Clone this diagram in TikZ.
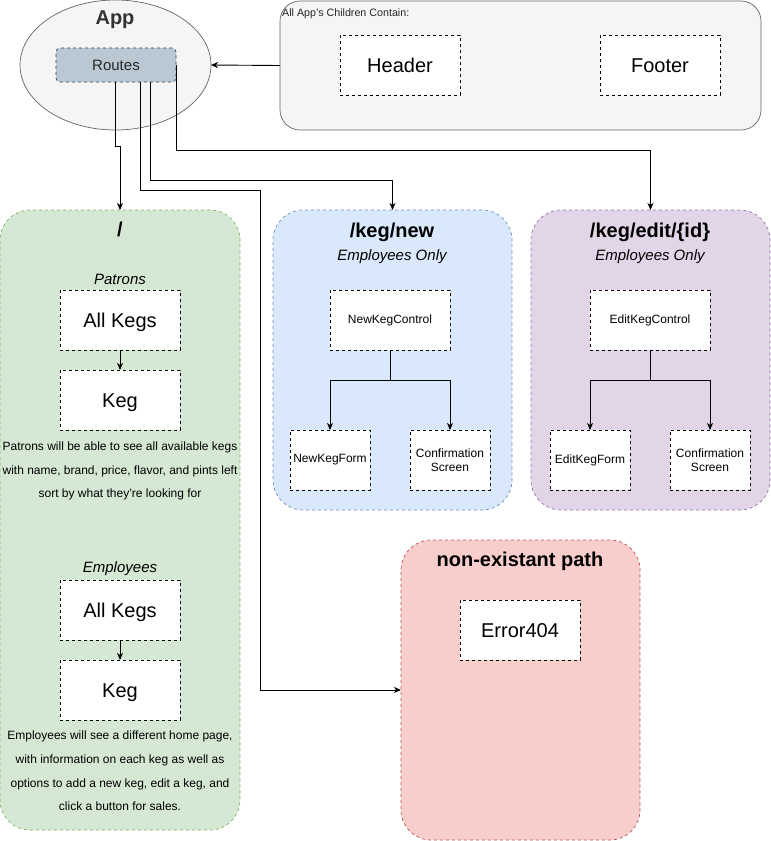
\documentclass[tikz,border=0pt]{standalone}
\usepackage{fontspec}
\setmainfont{Liberation Sans}
\usetikzlibrary{arrows.meta,shapes.geometric,calc}
\definecolor{gfill}{HTML}{D5E8D4}\definecolor{gline}{HTML}{82B366}
\definecolor{bfill}{HTML}{DAE8FC}\definecolor{bline}{HTML}{6C8EBF}
\definecolor{pfill}{HTML}{E1D5E7}\definecolor{pline}{HTML}{9673A6}
\definecolor{rfill}{HTML}{F8CECC}\definecolor{rline}{HTML}{B85450}
\definecolor{kfill}{HTML}{F5F5F5}\definecolor{kline}{HTML}{666666}
\definecolor{tfill}{HTML}{BAC8D3}\definecolor{tline}{HTML}{23445D}
\definecolor{dark}{HTML}{333333}
\tikzset{
  panel/.style={draw, rounded corners=30pt, dash pattern=on 3pt off 3pt, line width=0.7pt, inner sep=0pt, outer sep=0pt},
  inbox/.style={draw=black, fill=white, dash pattern=on 3pt off 3pt, line width=0.8pt, inner sep=0pt, outer sep=0pt, align=center},
  bigbox/.style={inbox, minimum width=120pt, minimum height=60pt, font=\fontsize{20}{24}\selectfont, text height=14.3pt, text depth=0pt},
  smallbox/.style={inbox, minimum width=80pt, minimum height=60pt, font=\fontsize{12}{14}\selectfont},
  title/.style={font=\fontsize{20}{24}\selectfont\bfseries, inner sep=0pt, text height=14.3pt, text depth=0pt},
  sub/.style={font=\fontsize{15}{18}\selectfont\itshape, inner sep=0pt, text height=10.7pt, text depth=0pt},
  desc/.style={align=center, inner sep=0pt, font=\fontsize{12}{23.8}\selectfont},
  arr/.style={-{Stealth[length=7pt,width=6pt,inset=2pt]}, line width=0.9pt},
  con/.style={line width=0.9pt}
}
\begin{document}
\begin{tikzpicture}[x=1pt,y=-1pt]
\useasboundingbox (0,0) rectangle (771,841);
% App
\node[ellipse, draw=kline, fill=kfill, line width=0.7pt, minimum width=191pt, minimum height=130pt, inner sep=0pt, outer sep=0pt] (app) at (115.5,65) {};
\node[title, text=dark] (apptitle) at (115,17) {App};
\node[draw=tline, fill=tfill, dash pattern=on 3pt off 3pt, line width=0.7pt, rounded corners=4pt, minimum width=120pt, minimum height=34pt, inner sep=0pt, outer sep=0pt, font=\fontsize{15}{17}\selectfont, text=black!85] (routes) at (116,65) {Routes};
% Children box
\node[draw=kline, fill=kfill, rounded corners=20pt, line width=0.7pt, minimum width=481pt, minimum height=129pt, inner sep=0pt, outer sep=0pt] (children) at (520.5,65.5) {};
\node[anchor=west, inner sep=0pt, font=\fontsize{10.7}{12}\selectfont, text=black!85] (childlabel) at (282,14) {All App's Children Contain:};
\node[bigbox] (header) at (400,65) {Header};
\node[bigbox] (footer) at (660,65) {Footer};
% Panels
\node[panel, draw=gline, fill=gfill, minimum width=240pt, minimum height=620pt] (home) at (120,520) {};
\node[panel, draw=bline, fill=bfill, minimum width=239pt, minimum height=300pt] (newp) at (392.5,360) {};
\node[panel, draw=pline, fill=pfill, minimum width=239pt, minimum height=300pt] (editp) at (650.5,360) {};
\node[panel, draw=rline, fill=rfill, minimum width=239pt, minimum height=300pt] (errp) at (520.5,690) {};
% Home contents
\node[title] (hometitle) at (120,229) {/};
\node[sub] (patrons) at (120,279) {Patrons};
\node[bigbox] (allkegs1) at (120,320) {All Kegs};
\node[bigbox] (keg1) at (120,400) {Keg};
\node[desc] (pdesc) at (120,471) {Patrons will be able to see all available kegs\\with name, brand, price, flavor, and pints left\\sort by what they're looking for};
\node[sub] (employees) at (120,567) {Employees};
\node[bigbox] (allkegs2) at (120,610) {All Kegs};
\node[bigbox] (keg2) at (120,690) {Keg};
\node[desc] (edesc) at (120,771) {Employees will see a different home page,\\with information on each keg as well as\\options to add a new keg, edit a keg, and\\click a button for sales.};
% New keg contents
\node[title] (newtitle) at (392,230) {/keg/new};
\node[sub] (newsub) at (392,255) {Employees Only};
\node[smallbox, minimum width=120pt] (newctrl) at (390,320) {NewKegControl};
\node[smallbox] (newform) at (330,460) {NewKegForm};
\node[smallbox] (newconf) at (450,460) {Confirmation\\Screen};
% Edit keg contents
\node[title] (edittitle) at (650,230) {/keg/edit/\{id\}};
\node[sub] (editsub) at (650,255) {Employees Only};
\node[smallbox, minimum width=120pt] (editctrl) at (650,320) {EditKegControl};
\node[smallbox] (editform) at (590,460) {EditKegForm};
\node[smallbox] (editconf) at (710,460) {Confirmation\\Screen};
% Error contents
\node[title] (errtitle) at (520,559) {non-existant path};
\node[bigbox] (err404) at (520,630) {Error404};
% Connectors
\draw[arr] (children.west) -- (app.east);
\draw[arr] ([xshift=-1pt]routes.south) -- ++(0,64) -| (home.north);
\coordinate (turn2) at (260,190);
\draw[arr] ([xshift=24pt]routes.south) |- (turn2) |- (errp.west);
\draw[arr] ([xshift=34pt]routes.south) -- ++(0,98) -| (newp.north);
\draw[arr] (routes.east) -- ++(0,85) -| (editp.north);
\draw[arr] (allkegs1.south) -- (keg1.north);
\draw[arr] (allkegs2.south) -- (keg2.north);
\draw[con] (newctrl.south) -- ++(0,30) coordinate (nj);
\draw[arr] (nj) -| (newform.north);
\draw[arr] (nj) -| (newconf.north);
\draw[con] (editctrl.south) -- ++(0,30) coordinate (ej);
\draw[arr] (ej) -| (editform.north);
\draw[arr] (ej) -| (editconf.north);
\end{tikzpicture}
\end{document}
